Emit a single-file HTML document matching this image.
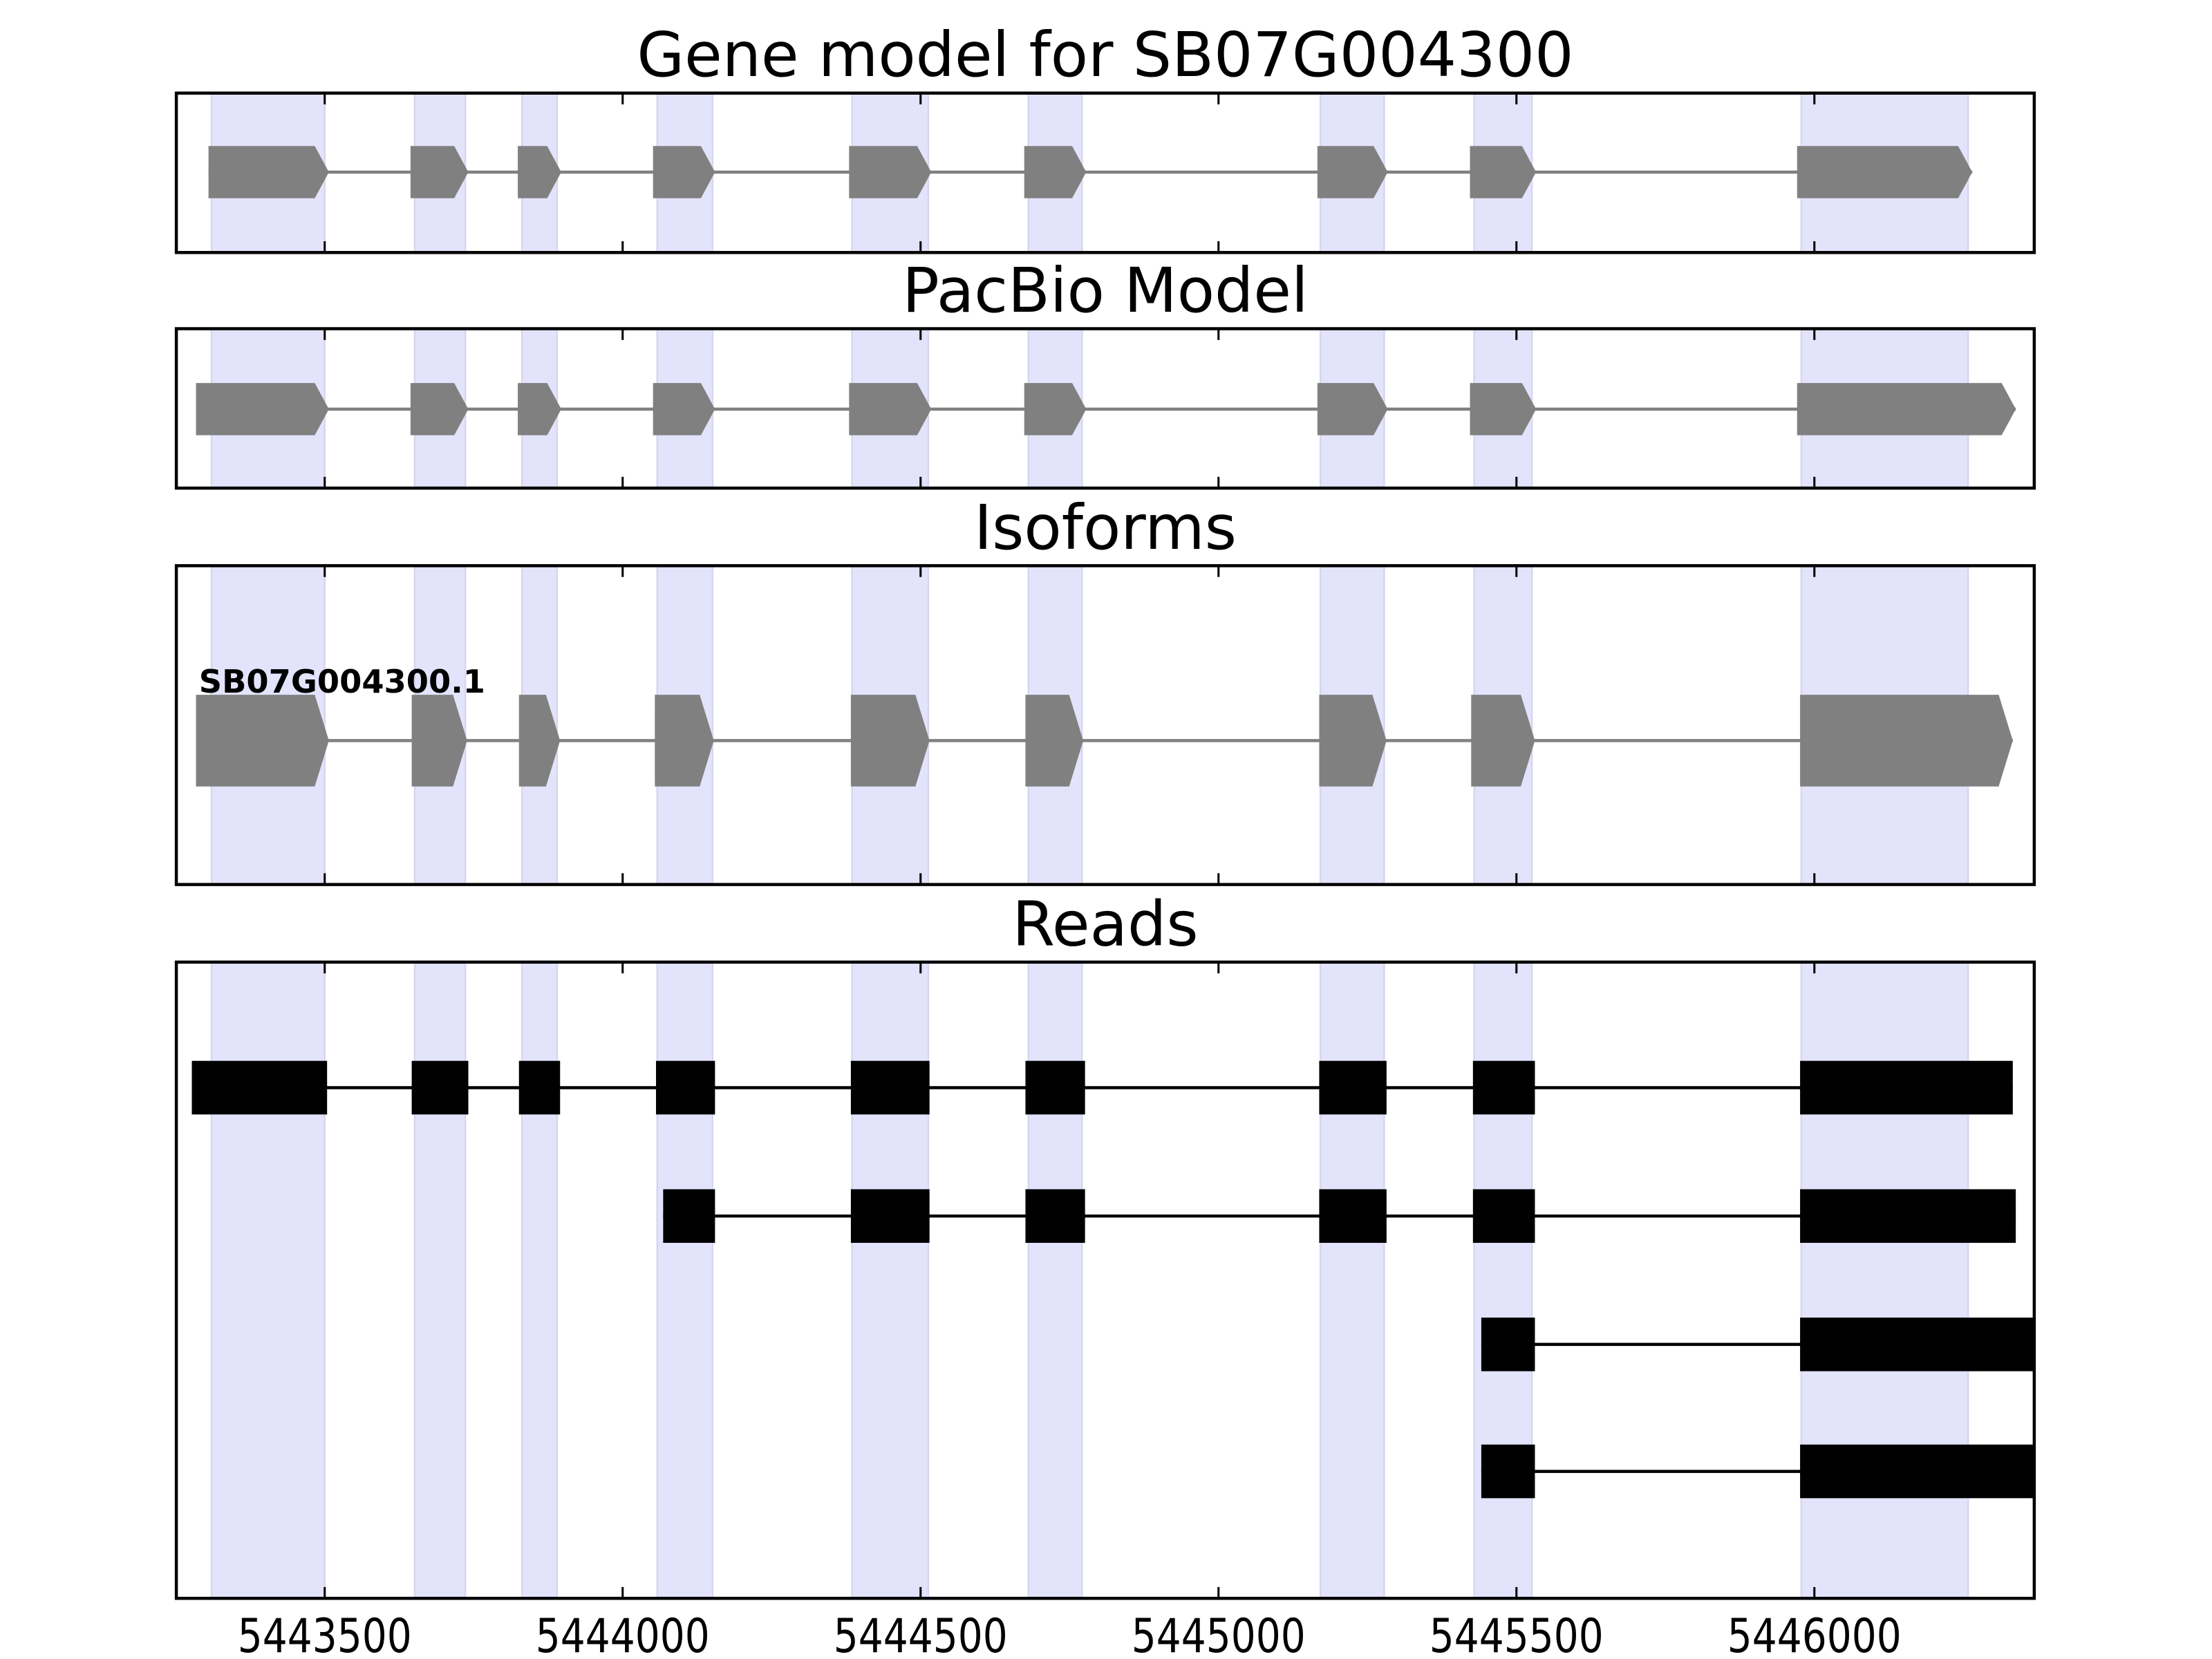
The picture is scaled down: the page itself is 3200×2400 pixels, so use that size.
<!DOCTYPE html>
<html><head><meta charset="utf-8"><style>
html,body{margin:0;padding:0;background:#fff;}
svg{display:block;font-family:"DejaVu Sans","Liberation Sans",sans-serif;}
</style></head><body>
<svg id="chart" width="3200" height="2400" viewBox="0 0 1568 1176" xmlns="http://www.w3.org/2000/svg">
<g id="root"></g>
</svg>
<script>
const ticks = [5443500, 5444000, 5444500, 5445000, 5445500, 5446000];
const tickLabels = ["5443500","5444000","5444500","5445000","5445500","5446000"];
const xDomain = [5443251, 5446369];
const shaded = [[5443310,5443500],[5443651,5443736],[5443831,5443890],[5444058,5444151],[5444385,5444513],[5444681,5444771],[5445171,5445278],[5445429,5445526],[5445978,5446258]];
const geneExons = [[5443305,5443507],[5443644,5443741],[5443824,5443897],[5444051,5444155],[5444380,5444518],[5444674,5444778],[5445166,5445284],[5445422,5445533],[5445971,5446265]];
const pacbioExons = [[5443284,5443507],[5443644,5443741],[5443824,5443897],[5444051,5444155],[5444380,5444518],[5444674,5444778],[5445166,5445284],[5445422,5445533],[5445971,5446338]];
const isoformExons = [[5443284,5443507],[5443646,5443739],[5443826,5443895],[5444054,5444153],[5444383,5444515],[5444676,5444773],[5445169,5445282],[5445424,5445531],[5445976,5446333]];
const read1 = [[5443277,5443504],[5443646,5443741],[5443826,5443895],[5444056,5444155],[5444383,5444515],[5444676,5444776],[5445169,5445282],[5445427,5445531],[5445976,5446333]];
const read2 = [[5444068,5444155],[5444383,5444515],[5444676,5444776],[5445169,5445282],[5445427,5445531],[5445976,5446338]];
const read3 = [[5445441,5445531],[5445976,5446420]];
const read4 = [[5445441,5445531],[5445976,5446420]];

const NS="http://www.w3.org/2000/svg";
const root=document.getElementById('root');
const L=125,R=1442;
const xs=v=>L+(v-xDomain[0])/(xDomain[1]-xDomain[0])*(R-L);
function mk(tag,attrs,parent){const e=document.createElementNS(NS,tag);for(const k in attrs)e.setAttribute(k,attrs[k]);(parent||root).appendChild(e);return e;}

const panels=[
 {title:"Gene model for SB07G004300",top:66,bot:179,name:"gene-model"},
 {title:"PacBio Model",top:233,bot:346,name:"pacbio-model"},
 {title:"Isoforms",top:401,bot:627,name:"isoforms"},
 {title:"Reads",top:682,bot:1133,name:"reads"}
];
panels.forEach((p,i)=>{
 const g=mk('g',{});
 
 
 const cp=mk('clipPath',{id:'cp'+i},g);
 mk('rect',{x:L,y:p.top,width:R-L,height:p.bot-p.top},cp);
 const inner=mk('g',{'clip-path':'url(#cp'+i+')'},g);
 shaded.forEach(s=>{
  const r=mk('rect',{x:xs(s[0]),y:p.top,width:xs(s[1])-xs(s[0]),height:p.bot-p.top,fill:'#e3e3fc',stroke:'#d6d6ee','stroke-width':1.2},inner);
  
  
 });
 p.inner=inner;p.g=g;
 const t=mk('text',{x:(L+R)/2,y:p.top-12,'text-anchor':'middle','font-size':43.5,fill:'#000'},g);
 t.textContent=p.title;
 
 
});
function arrowModel(inner,exons,cy,h,tip){
 const a=xs(exons[0][0]),b=xs(exons[exons.length-1][1]);
 mk('line',{x1:a,x2:b,y1:cy,y2:cy,stroke:'#808080','stroke-width':2.2},inner);
 exons.forEach(e=>{
  const x0=xs(e[0]),x1=xs(e[1]);
  const pg=mk('polygon',{points:`${x0},${cy-h/2} ${x1-tip},${cy-h/2} ${x1},${cy} ${x1-tip},${cy+h/2} ${x0},${cy+h/2}`,fill:'#808080'},inner);
  
  
 });
}
arrowModel(panels[0].inner,geneExons,122,37,10);
arrowModel(panels[1].inner,pacbioExons,290,37,10);
arrowModel(panels[2].inner,isoformExons,525,65,10);
const lbl=mk('text',{x:141,y:491,'font-size':22.7,'font-weight':'bold',fill:'#000'},panels[2].g);
lbl.textContent="SB07G004300.1";


function read(exons,cy){
 const inner=panels[3].inner;
 const a=xs(exons[0][0]),b=xs(exons[exons.length-1][1]);
 mk('line',{x1:a,x2:b,y1:cy,y2:cy,stroke:'#000','stroke-width':2.2},inner);
 exons.forEach(e=>{
  const r=mk('rect',{x:xs(e[0]),y:cy-19,width:xs(e[1])-xs(e[0]),height:38,fill:'#000'},inner);
  
  
 });
}
read(read1,771);read(read2,862);read(read3,953);read(read4,1043);
panels.forEach((p,i)=>{
 const fr=mk('rect',{x:L,y:p.top,width:R-L,height:p.bot-p.top,fill:'none',stroke:'#000','stroke-width':2.2},p.g);
 
 
 ticks.forEach((t,j)=>{
  const x=xs(t);
  mk('line',{x1:x,x2:x,y1:p.top,y2:p.top+8,stroke:'#000','stroke-width':1.5},p.g);
  mk('line',{x1:x,x2:x,y1:p.bot,y2:p.bot-8,stroke:'#000','stroke-width':1.5},p.g);
  if(i===3){
   const tl=mk('text',{x:0,y:0,transform:`translate(${x},1171) scale(0.84,1)`,'text-anchor':'middle','font-size':33,fill:'#000'},p.g);
   tl.textContent=tickLabels[j];
   
   
  }
 });
});
</script>
</body></html>
